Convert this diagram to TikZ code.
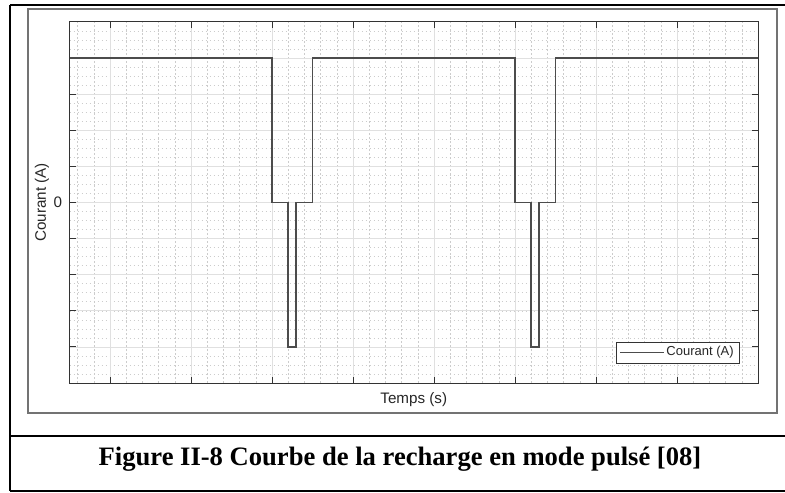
\documentclass[tikz,border=0pt]{standalone}
\usepackage{fontspec}
\setmainfont{Liberation Serif}
\setsansfont{Liberation Sans}
\usepackage{tikz}
\tikzset{
	tablerule/.style={black, line width=1pt},
	imgframe/.style={black!55, line width=0.6pt},
	axisbox/.style={black!80, line width=0.5pt},
	majorgrid/.style={black!12, line width=0.4pt},
	minorgrid/.style={black!20, line width=0.3pt, dash pattern=on 0.8pt off 1.2pt},
	signal/.style={black!70, line width=0.85pt},
	axlabel/.style={font=\sffamily\fontsize{7.6}{9}\selectfont, text=black!85, inner sep=0pt},
	legtext/.style={font=\sffamily\fontsize{6.5}{8}\selectfont, text=black!85, inner sep=0pt},
	captext/.style={font=\bfseries\fontsize{13.3}{15}\selectfont, inner sep=0pt}
}

\begin{document}
\begin{tikzpicture}[x=0.5pt, y=-0.5pt]
	\useasboundingbox (0,0) rectangle (785,492);

	% table
	\draw [tablerule] (10,5) -- (785,5);
	\draw [tablerule, line width=1.2pt] (10,5) -- (10,491);
	\draw [tablerule] (10,436) -- (785,436);
	\draw [tablerule] (10,491) -- (785,491);
	% image frame
	\draw [imgframe] (28,9) rectangle (777,413);

	% plot
	\begin{scope}[shift={(110,202.5)}, x=40.5pt, y=18.05pt]
		% minor grid
		\foreach \x in {-0.4,-0.2,...,7.9}
			\draw [minorgrid] (\x,-5) -- (\x,5);
		\foreach \y in {-4.75,-4.5,...,4.9}
			\draw [minorgrid] (-0.5,\y) -- (8,\y);
		% major grid
		\foreach \x in {0,...,7}
			\draw [majorgrid] (\x,-5) -- (\x,5);
		\foreach \y in {-4,...,4}
			\draw [majorgrid] (-0.5,\y) -- (8,\y);
		% box
		\draw [axisbox] (-0.5,-5) rectangle (8,5);
		% ticks
		\foreach \x in {0,...,7} {
			\draw [axisbox] (\x,-5) -- (\x,-4.83);
			\draw [axisbox] (\x,5) -- (\x,4.83);
		}
		\foreach \y in {-4,...,4} {
			\draw [axisbox] (-0.5,\y) -- (-0.425,\y);
			\draw [axisbox] (8,\y) -- (7.925,\y);
		}
		% curve
		\draw [signal] (-0.5,4) -- (2,4) -- (2,0) -- (2.2,0) -- (2.2,-4) -- (2.3,-4)
			-- (2.3,0) -- (2.5,0) -- (2.5,4) -- (5,4) -- (5,0) -- (5.2,0) -- (5.2,-4)
			-- (5.3,-4) -- (5.3,0) -- (5.5,0) -- (5.5,4) -- (8,4);
		% label
		\node [axlabel, anchor=east, xshift=-3.5pt] (zero) at (-0.5,0) {0};
		\node [axlabel, rotate=90] (ylab) at (-0.84,0) {Courant (A)};
		\node [axlabel] (xlab) at (3.75,-5.47) {Temps (s)};
	\end{scope}

	% legend
	\draw [axisbox, fill=white] (616,342) rectangle (739,363);
	\draw [signal] (620,352.5) -- (664,352.5);
	\node [legtext, anchor=west] (leg) at (666,352.5) {Courant (A)};

	% caption
	\node [captext, anchor=base] (cap) at (400,465) {Figure II-8 Courbe de la recharge en mode pulsé [08]};
\end{tikzpicture}
\end{document}
